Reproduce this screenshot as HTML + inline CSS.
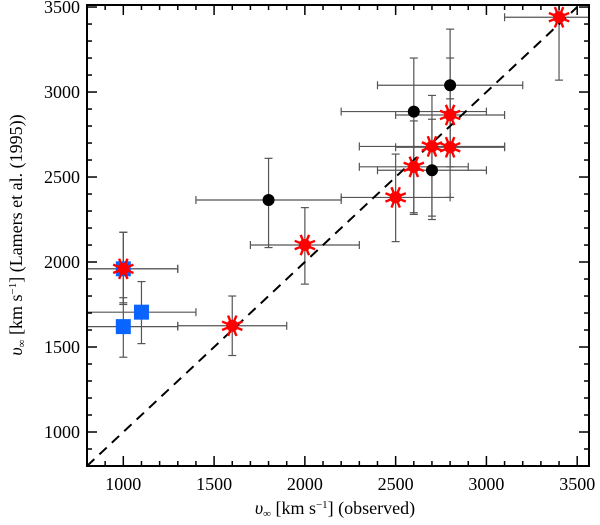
<!DOCTYPE html>
<html><head><meta charset="utf-8"><style>
body{margin:0;background:#fff;}
svg text{font-family:"Liberation Serif",serif;}
</style></head><body>
<svg id="chart" width="600" height="520" viewBox="0 0 600 520" xmlns="http://www.w3.org/2000/svg">
<g id="bars"></g>
<line id="diag" stroke="#000" stroke-width="2" stroke-dasharray="10,7"/>
<g id="marks"></g>
<g id="axes"></g>
<text x="335" y="514" text-anchor="middle" font-size="18"><tspan font-style="italic">υ</tspan><tspan font-size="11" dy="3">∞</tspan><tspan dy="-3"> [km s</tspan><tspan font-size="11" dy="-6">−1</tspan><tspan dy="6">] (observed)</tspan></text>
<text transform="translate(22,235) rotate(-90)" text-anchor="middle" font-size="18"><tspan font-style="italic">υ</tspan><tspan font-size="11" dy="3">∞</tspan><tspan dy="-3"> [km s</tspan><tspan font-size="11" dy="-6">−1</tspan><tspan dy="6">] (Lamers et al. (1995))</tspan></text>
</svg>
<script>
const xTicks=[1000,1500,2000,2500,3000,3500];
const yTicks=[1000,1500,2000,2500,3000,3500];
// red stars
const redX=[1000,1600,2000,2500,2600,2700,2800,2800,3400];
const redY=[1960,1625,2100,2380,2560,2680,2675,2865,3440];
const redXlo=[700,1300,1700,2200,2300,2300,2500,2500,3100];
const redXhi=[1300,1900,2300,2800,2900,3100,3100,3100,3700];
const redYlo=[1750,1450,1870,2120,2290,2270,2380,2560,3070];
const redYhi=[2175,1800,2320,2635,2830,2980,2960,3200,3700];
// black circles
const blkX=[1800,2600,2700,2800];
const blkY=[2365,2885,2540,3040];
const blkXlo=[1400,2200,2400,2400];
const blkXhi=[2200,3000,3000,3200];
const blkYlo=[2085,2280,2250,2690];
const blkYhi=[2610,3200,2840,3370];
// blue squares
const bluX=[1000,1100,1000];
const bluY=[1620,1705,1960];
const bluXlo=[700,800,700];
const bluXhi=[1300,1400,1300];
const bluYlo=[1440,1520,1760];
const bluYhi=[1790,1885,2175];

const X0=87,X1=589,Y0=466,Y1=5,xmin=800,xmax=3565,ymin=800,ymax=3512;
const sx=v=>X0+(v-xmin)/(xmax-xmin)*(X1-X0);
const sy=v=>Y0-(v-ymin)/(ymax-ymin)*(Y0-Y1);
const NS="http://www.w3.org/2000/svg";
function mk(p,t,a){const e=document.createElementNS(NS,t);for(const k in a)e.setAttribute(k,a[k]);p.appendChild(e);return e;}
const clampX=v=>Math.max(X0,Math.min(X1,v)),clampY=v=>Math.max(Y1,Math.min(Y0,v));
const bars=document.getElementById('bars'),marks=document.getElementById('marks'),axes=document.getElementById('axes');
function errbar(x,y,xl,xh,yl,yh,col){
  const g=mk(bars,'g',{stroke:col,'stroke-width':1.2,fill:'none'});
  
  
  const a=clampX(sx(xl)),b=clampX(sx(xh)),c=clampY(sy(yl)),d=clampY(sy(yh));
  mk(g,'line',{x1:a,x2:b,y1:sy(y),y2:sy(y)});
  mk(g,'line',{x1:sx(x),x2:sx(x),y1:c,y2:d});
  if(a>X0+1)mk(g,'line',{x1:a,x2:a,y1:sy(y)-4,y2:sy(y)+4});
  if(b<X1-1)mk(g,'line',{x1:b,x2:b,y1:sy(y)-4,y2:sy(y)+4});
  if(c<Y0-1)mk(g,'line',{x1:sx(x)-4,x2:sx(x)+4,y1:c,y2:c});
  if(d>Y1+1)mk(g,'line',{x1:sx(x)-4,x2:sx(x)+4,y1:d,y2:d});
}
bluX.forEach((v,i)=>errbar(v,bluY[i],bluXlo[i],bluXhi[i],bluYlo[i],bluYhi[i],'#555'));
blkX.forEach((v,i)=>errbar(v,blkY[i],blkXlo[i],blkXhi[i],blkYlo[i],blkYhi[i],'#555'));
redX.forEach((v,i)=>errbar(v,redY[i],redXlo[i],redXhi[i],redYlo[i],redYhi[i],'#555'));
const dg=document.getElementById('diag');
dg.setAttribute('x1',sx(800));dg.setAttribute('y1',sy(800));dg.setAttribute('x2',sx(3500));dg.setAttribute('y2',sy(3500));
bluX.forEach((v,i)=>{const r=mk(marks,'rect',{x:sx(v)-7.5,y:sy(bluY[i])-7.5,width:15,height:15,fill:'#0a64ff'});
  
  });
blkX.forEach((v,i)=>{const c=mk(marks,'circle',{cx:sx(v),cy:sy(blkY[i]),r:6,fill:'#000'});
  
  });
redX.forEach((v,i)=>{const cx=sx(v),cy=sy(redY[i]);
  const g=mk(marks,'g',{stroke:'#f00','stroke-width':2.4});
  
  
  for(let k=0;k<4;k++){const a=Math.PI/4*k+Math.PI/8;const dx=11*Math.cos(a),dy=11*Math.sin(a);
    mk(g,'line',{x1:cx-dx,y1:cy-dy,x2:cx+dx,y2:cy+dy});}
  mk(g,'circle',{cx:cx,cy:cy,r:6,fill:'#f00',stroke:'none'});});
// axes
mk(axes,'rect',{x:X0,y:Y1,width:X1-X0,height:Y0-Y1,fill:'none',stroke:'#000','stroke-width':2});
for(let v=900;v<=3500;v+=100){const x=sx(v),L=v%500===0?10:5;
  mk(axes,'line',{x1:x,x2:x,y1:Y0,y2:Y0-L,stroke:'#000','stroke-width':1.5});
  mk(axes,'line',{x1:x,x2:x,y1:Y1,y2:Y1+L,stroke:'#000','stroke-width':1.5});
  const y=sy(v);
  mk(axes,'line',{x1:X0,x2:X0+L,y1:y,y2:y,stroke:'#000','stroke-width':1.5});
  mk(axes,'line',{x1:X1,x2:X1-L,y1:y,y2:y,stroke:'#000','stroke-width':1.5});}
xTicks.forEach(v=>{const t=mk(axes,'text',{x:sx(v),y:490,'text-anchor':'middle','font-size':18});t.textContent=v;
  
  });
yTicks.forEach(v=>{const t=mk(axes,'text',{x:80,y:sy(v)+6,'text-anchor':'end','font-size':18});t.textContent=v;
  
  });
</script>
</body></html>
